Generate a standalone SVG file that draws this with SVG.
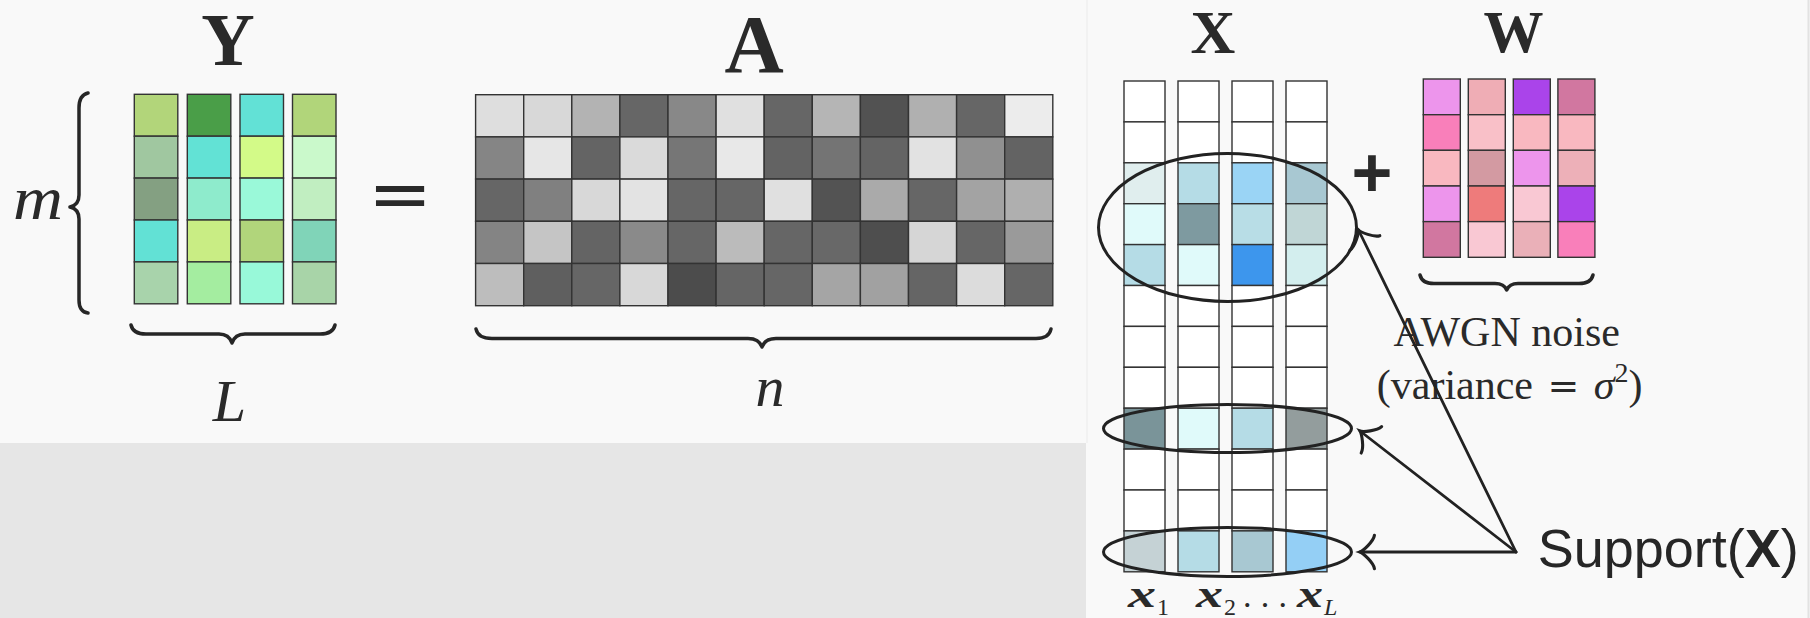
<svg xmlns="http://www.w3.org/2000/svg" width="1810" height="618" viewBox="0 0 1810 618">
<style>
.c{stroke:#333;stroke-width:1.4}
.w{fill:#fff}
.br{fill:none;stroke:#262626;stroke-width:3.5;stroke-linecap:round;stroke-linejoin:round}
.ell{fill:none;stroke:#222;stroke-width:3}
.ln{fill:none;stroke:#222;stroke-width:2.8;stroke-linecap:round}
.serif{font-family:"Liberation Serif","Times New Roman",serif;fill:#2a2a2a}
.bold{font-weight:bold}
.it{font-style:italic}
.sans{font-family:"Liberation Sans",Arial,sans-serif;fill:#262626}
.op{font-family:"Liberation Sans",Arial,sans-serif;font-weight:bold;fill:#2a2a2a}
</style>
<defs>
<marker id="to" markerUnits="userSpaceOnUse" markerWidth="30" markerHeight="40" viewBox="-16 -18 20 36" refX="0" refY="0" orient="auto">
<path d="M -13,-15 C -12.2,-9.4 -2.6,-0.9 0,0 C -2.6,0.9 -12.2,9.4 -13,15" fill="none" stroke="#222" stroke-width="2.8" stroke-linecap="round"/>
</marker>
</defs>
<rect x="0" y="0" width="1810" height="618" fill="#f9f9f9"/>
<rect x="0" y="443" width="1086" height="175" fill="#e6e6e6"/>
<line x1="1087" y1="0" x2="1087" y2="443" stroke="#efefef" stroke-width="1.5"/>
<line x1="1808.5" y1="0" x2="1808.5" y2="618" stroke="#e2e2e2" stroke-width="2"/>

<g id="matrix-Y">
<text class="serif bold" x="228" y="65" font-size="74" text-anchor="middle">Y</text>
<g class="c">
<rect x="134.3" y="94.3" width="43.5" height="41.9" fill="#b2d57a"/>
<rect x="134.3" y="136.2" width="43.5" height="41.9" fill="#a0c7a0"/>
<rect x="134.3" y="178.1" width="43.5" height="41.9" fill="#84a082"/>
<rect x="134.3" y="220" width="43.5" height="41.9" fill="#62e1d5"/>
<rect x="134.3" y="261.9" width="43.5" height="41.9" fill="#a8d3ab"/>
<rect x="187.3" y="94.3" width="43.5" height="41.9" fill="#4a9e48"/>
<rect x="187.3" y="136.2" width="43.5" height="41.9" fill="#62e2d5"/>
<rect x="187.3" y="178.1" width="43.5" height="41.9" fill="#8eebcc"/>
<rect x="187.3" y="220" width="43.5" height="41.9" fill="#c9ed84"/>
<rect x="187.3" y="261.9" width="43.5" height="41.9" fill="#a4eda0"/>
<rect x="240" y="94.3" width="43.5" height="41.9" fill="#62e1d6"/>
<rect x="240" y="136.2" width="43.5" height="41.9" fill="#d3fa88"/>
<rect x="240" y="178.1" width="43.5" height="41.9" fill="#9af9d9"/>
<rect x="240" y="220" width="43.5" height="41.9" fill="#b1d57b"/>
<rect x="240" y="261.9" width="43.5" height="41.9" fill="#98f9d9"/>
<rect x="292.5" y="94.3" width="43.5" height="41.9" fill="#b1d57a"/>
<rect x="292.5" y="136.2" width="43.5" height="41.9" fill="#caf9cb"/>
<rect x="292.5" y="178.1" width="43.5" height="41.9" fill="#c1eec1"/>
<rect x="292.5" y="220" width="43.5" height="41.9" fill="#80d4b8"/>
<rect x="292.5" y="261.9" width="43.5" height="41.9" fill="#a8d4a8"/>
</g>
<path class="br" d="M 88,93 Q 79,95 79,108 L 79,195 Q 79,205 70,207 Q 79,209 79,219 L 79,300 Q 79,312 88,313"/>
<text class="serif it" x="13" y="219" font-size="62" textLength="50" lengthAdjust="spacingAndGlyphs">m</text>
<path class="br" d="M 131,325 Q 133,334 146,334 L 219,334 Q 229,334 232,343 Q 235,334 245,334 L 320,334 Q 333,334 335,325"/>
<text class="serif it" x="229.5" y="421" font-size="60" text-anchor="middle">L</text>
</g>

<text id="equals" class="op" x="400" y="218" font-size="96" text-anchor="middle" transform="matrix(1 0 0 0.55 0 94)">=</text>

<g id="matrix-A">
<text class="serif bold" x="754" y="72" font-size="82" text-anchor="middle">A</text>
<g class="c">
<rect x="475.6" y="94.7" width="48.1" height="42.2" fill="#dedede"/>
<rect x="523.7" y="94.7" width="48.1" height="42.2" fill="#d8d8d8"/>
<rect x="571.8" y="94.7" width="48.1" height="42.2" fill="#b3b3b3"/>
<rect x="619.9" y="94.7" width="48.1" height="42.2" fill="#666666"/>
<rect x="668" y="94.7" width="48.1" height="42.2" fill="#888888"/>
<rect x="716.1" y="94.7" width="48.1" height="42.2" fill="#e0e0e0"/>
<rect x="764.2" y="94.7" width="48.1" height="42.2" fill="#666666"/>
<rect x="812.3" y="94.7" width="48.1" height="42.2" fill="#b5b5b5"/>
<rect x="860.4" y="94.7" width="48.1" height="42.2" fill="#525252"/>
<rect x="908.5" y="94.7" width="48.1" height="42.2" fill="#b0b0b0"/>
<rect x="956.6" y="94.7" width="48.1" height="42.2" fill="#666666"/>
<rect x="1004.7" y="94.7" width="48.1" height="42.2" fill="#ececec"/>

<rect x="475.6" y="136.9" width="48.1" height="42.2" fill="#858585"/>
<rect x="523.7" y="136.9" width="48.1" height="42.2" fill="#e6e6e6"/>
<rect x="571.8" y="136.9" width="48.1" height="42.2" fill="#646464"/>
<rect x="619.9" y="136.9" width="48.1" height="42.2" fill="#dadada"/>
<rect x="668" y="136.9" width="48.1" height="42.2" fill="#767676"/>
<rect x="716.1" y="136.9" width="48.1" height="42.2" fill="#e8e8e8"/>
<rect x="764.2" y="136.9" width="48.1" height="42.2" fill="#636363"/>
<rect x="812.3" y="136.9" width="48.1" height="42.2" fill="#747474"/>
<rect x="860.4" y="136.9" width="48.1" height="42.2" fill="#646464"/>
<rect x="908.5" y="136.9" width="48.1" height="42.2" fill="#e2e2e2"/>
<rect x="956.6" y="136.9" width="48.1" height="42.2" fill="#909090"/>
<rect x="1004.7" y="136.9" width="48.1" height="42.2" fill="#636363"/>

<rect x="475.6" y="179.1" width="48.1" height="42.2" fill="#666666"/>
<rect x="523.7" y="179.1" width="48.1" height="42.2" fill="#808080"/>
<rect x="571.8" y="179.1" width="48.1" height="42.2" fill="#d8d8d8"/>
<rect x="619.9" y="179.1" width="48.1" height="42.2" fill="#e3e3e3"/>
<rect x="668" y="179.1" width="48.1" height="42.2" fill="#666666"/>
<rect x="716.1" y="179.1" width="48.1" height="42.2" fill="#666666"/>
<rect x="764.2" y="179.1" width="48.1" height="42.2" fill="#e0e0e0"/>
<rect x="812.3" y="179.1" width="48.1" height="42.2" fill="#535353"/>
<rect x="860.4" y="179.1" width="48.1" height="42.2" fill="#aaaaaa"/>
<rect x="908.5" y="179.1" width="48.1" height="42.2" fill="#666666"/>
<rect x="956.6" y="179.1" width="48.1" height="42.2" fill="#a3a3a3"/>
<rect x="1004.7" y="179.1" width="48.1" height="42.2" fill="#afafaf"/>

<rect x="475.6" y="221.3" width="48.1" height="42.2" fill="#848484"/>
<rect x="523.7" y="221.3" width="48.1" height="42.2" fill="#c5c5c5"/>
<rect x="571.8" y="221.3" width="48.1" height="42.2" fill="#646464"/>
<rect x="619.9" y="221.3" width="48.1" height="42.2" fill="#8a8a8a"/>
<rect x="668" y="221.3" width="48.1" height="42.2" fill="#666666"/>
<rect x="716.1" y="221.3" width="48.1" height="42.2" fill="#bbbbbb"/>
<rect x="764.2" y="221.3" width="48.1" height="42.2" fill="#666666"/>
<rect x="812.3" y="221.3" width="48.1" height="42.2" fill="#686868"/>
<rect x="860.4" y="221.3" width="48.1" height="42.2" fill="#4e4e4e"/>
<rect x="908.5" y="221.3" width="48.1" height="42.2" fill="#d6d6d6"/>
<rect x="956.6" y="221.3" width="48.1" height="42.2" fill="#666666"/>
<rect x="1004.7" y="221.3" width="48.1" height="42.2" fill="#9a9a9a"/>

<rect x="475.6" y="263.5" width="48.1" height="42.2" fill="#bdbdbd"/>
<rect x="523.7" y="263.5" width="48.1" height="42.2" fill="#5f5f5f"/>
<rect x="571.8" y="263.5" width="48.1" height="42.2" fill="#666666"/>
<rect x="619.9" y="263.5" width="48.1" height="42.2" fill="#d8d8d8"/>
<rect x="668" y="263.5" width="48.1" height="42.2" fill="#4c4c4c"/>
<rect x="716.1" y="263.5" width="48.1" height="42.2" fill="#656565"/>
<rect x="764.2" y="263.5" width="48.1" height="42.2" fill="#666666"/>
<rect x="812.3" y="263.5" width="48.1" height="42.2" fill="#a5a5a5"/>
<rect x="860.4" y="263.5" width="48.1" height="42.2" fill="#a1a1a1"/>
<rect x="908.5" y="263.5" width="48.1" height="42.2" fill="#656565"/>
<rect x="956.6" y="263.5" width="48.1" height="42.2" fill="#dcdcdc"/>
<rect x="1004.7" y="263.5" width="48.1" height="42.2" fill="#666666"/>
</g>
<path class="br" d="M 476,329 Q 478,338.5 492,338.5 L 748,338.5 Q 759,338.5 762,347 Q 765,338.5 776,338.5 L 1036,338.5 Q 1049,338.5 1051,329"/>
<text class="serif it" x="770" y="406" font-size="58" text-anchor="middle">n</text>
</g>

<g id="matrix-X">
<text class="serif bold" x="1213" y="53" font-size="62" text-anchor="middle">X</text>
<g class="c">
<g id="x-col1">
<rect class="w" x="1124" y="81" width="41" height="40.9"/>
<rect class="w" x="1124" y="121.9" width="41" height="40.9"/>
<rect x="1124" y="162.8" width="41" height="40.9" fill="#e0eeee"/>
<rect x="1124" y="203.7" width="41" height="40.9" fill="#e0fafa"/>
<rect x="1124" y="244.6" width="41" height="40.9" fill="#b5dce6"/>
<rect class="w" x="1124" y="285.5" width="41" height="40.9"/>
<rect class="w" x="1124" y="326.4" width="41" height="40.9"/>
<rect class="w" x="1124" y="367.3" width="41" height="40.9"/>
<rect x="1124" y="408.2" width="41" height="40.9" fill="#7a9499"/>
<rect class="w" x="1124" y="449.1" width="41" height="40.9"/>
<rect class="w" x="1124" y="490" width="41" height="40.9"/>
<rect x="1124" y="530.9" width="41" height="40.9" fill="#c5d2d5"/>
</g>
<g id="x-col2">
<rect class="w" x="1178" y="81" width="41" height="40.9"/>
<rect class="w" x="1178" y="121.9" width="41" height="40.9"/>
<rect x="1178" y="162.8" width="41" height="40.9" fill="#b5dce6"/>
<rect x="1178" y="203.7" width="41" height="40.9" fill="#7e9aa0"/>
<rect x="1178" y="244.6" width="41" height="40.9" fill="#e0fafa"/>
<rect class="w" x="1178" y="285.5" width="41" height="40.9"/>
<rect class="w" x="1178" y="326.4" width="41" height="40.9"/>
<rect class="w" x="1178" y="367.3" width="41" height="40.9"/>
<rect x="1178" y="408.2" width="41" height="40.9" fill="#e0fafa"/>
<rect class="w" x="1178" y="449.1" width="41" height="40.9"/>
<rect class="w" x="1178" y="490" width="41" height="40.9"/>
<rect x="1178" y="530.9" width="41" height="40.9" fill="#b5dce6"/>
</g>
<g id="x-col3">
<rect class="w" x="1232" y="81" width="41" height="40.9"/>
<rect class="w" x="1232" y="121.9" width="41" height="40.9"/>
<rect x="1232" y="162.8" width="41" height="40.9" fill="#9ad4f5"/>
<rect x="1232" y="203.7" width="41" height="40.9" fill="#b8dde6"/>
<rect x="1232" y="244.6" width="41" height="40.9" fill="#3d96ed"/>
<rect class="w" x="1232" y="285.5" width="41" height="40.9"/>
<rect class="w" x="1232" y="326.4" width="41" height="40.9"/>
<rect class="w" x="1232" y="367.3" width="41" height="40.9"/>
<rect x="1232" y="408.2" width="41" height="40.9" fill="#b5dce6"/>
<rect class="w" x="1232" y="449.1" width="41" height="40.9"/>
<rect class="w" x="1232" y="490" width="41" height="40.9"/>
<rect x="1232" y="530.9" width="41" height="40.9" fill="#a8c8d2"/>
</g>
<g id="x-col4">
<rect class="w" x="1286" y="81" width="41" height="40.9"/>
<rect class="w" x="1286" y="121.9" width="41" height="40.9"/>
<rect x="1286" y="162.8" width="41" height="40.9" fill="#a8c8d2"/>
<rect x="1286" y="203.7" width="41" height="40.9" fill="#c0d6d6"/>
<rect x="1286" y="244.6" width="41" height="40.9" fill="#d3eeee"/>
<rect class="w" x="1286" y="285.5" width="41" height="40.9"/>
<rect class="w" x="1286" y="326.4" width="41" height="40.9"/>
<rect class="w" x="1286" y="367.3" width="41" height="40.9"/>
<rect x="1286" y="408.2" width="41" height="40.9" fill="#939d9d"/>
<rect class="w" x="1286" y="449.1" width="41" height="40.9"/>
<rect class="w" x="1286" y="490" width="41" height="40.9"/>
<rect x="1286" y="530.9" width="41" height="40.9" fill="#94cff5"/>
</g>
</g>
<text class="serif bold it" x="1128" y="607" font-size="38" textLength="28" lengthAdjust="spacingAndGlyphs">x</text>
<text class="serif" x="1157" y="615" font-size="24">1</text>
<text class="serif bold it" x="1196" y="607" font-size="38" textLength="27" lengthAdjust="spacingAndGlyphs">x</text>
<text class="serif" x="1224" y="615" font-size="24">2</text>
<text class="serif" x="1243" y="607" font-size="34" textLength="44" lengthAdjust="spacing">...</text>
<text class="serif bold it" x="1297" y="607" font-size="38" textLength="26" lengthAdjust="spacingAndGlyphs">x</text>
<text class="serif it" x="1324" y="615" font-size="24">L</text>
</g>

<text id="plus" class="op" x="1372" y="197" font-size="70" text-anchor="middle">+</text>

<g id="matrix-W">
<text class="serif bold" x="1513.5" y="52" font-size="60" text-anchor="middle">W</text>
<g class="c">
<rect x="1423.3" y="79" width="37" height="35.7" fill="#ed95ec"/>
<rect x="1423.3" y="114.7" width="37" height="35.7" fill="#f97fba"/>
<rect x="1423.3" y="150.3" width="37" height="35.7" fill="#f9b8c0"/>
<rect x="1423.3" y="186" width="37" height="35.7" fill="#ed95ec"/>
<rect x="1423.3" y="221.6" width="37" height="35.7" fill="#d177a0"/>
<rect x="1468.3" y="79" width="37" height="35.7" fill="#efadb5"/>
<rect x="1468.3" y="114.7" width="37" height="35.7" fill="#f9c0c8"/>
<rect x="1468.3" y="150.3" width="37" height="35.7" fill="#d39aa2"/>
<rect x="1468.3" y="186" width="37" height="35.7" fill="#ee7b7b"/>
<rect x="1468.3" y="221.6" width="37" height="35.7" fill="#f9c8d3"/>
<rect x="1513.3" y="79" width="37" height="35.7" fill="#aa44ea"/>
<rect x="1513.3" y="114.7" width="37" height="35.7" fill="#f9b8c0"/>
<rect x="1513.3" y="150.3" width="37" height="35.7" fill="#ed95ec"/>
<rect x="1513.3" y="186" width="37" height="35.7" fill="#f9c8d3"/>
<rect x="1513.3" y="221.6" width="37" height="35.7" fill="#eab0b8"/>
<rect x="1557.9" y="79" width="37" height="35.7" fill="#d177a0"/>
<rect x="1557.9" y="114.7" width="37" height="35.7" fill="#f9b8c0"/>
<rect x="1557.9" y="150.3" width="37" height="35.7" fill="#edb0b8"/>
<rect x="1557.9" y="186" width="37" height="35.7" fill="#aa44ea"/>
<rect x="1557.9" y="221.6" width="37" height="35.7" fill="#f97fba"/>
</g>
<path class="br" d="M 1420,275 Q 1422,283.5 1434,283.5 L 1495,283.5 Q 1504,283.5 1506.7,290 Q 1509.5,283.5 1518,283.5 L 1579,283.5 Q 1591,283.5 1593,275"/>
<text class="serif" x="1506.7" y="345.7" font-size="42" text-anchor="middle" fill="#333">AWGN noise</text>
<text class="serif" x="1509.7" y="399" font-size="42" text-anchor="middle" fill="#333" word-spacing="4">(variance <tspan font-family="'DejaVu Serif',serif" font-size="38">=</tspan> <tspan class="it">σ</tspan><tspan dy="-17" font-size="28">2</tspan><tspan dy="17">)</tspan></text>
</g>

<g id="support-sets">
<ellipse class="ell" cx="1227.5" cy="227.5" rx="129" ry="74"/>
<ellipse class="ell" cx="1227.5" cy="428.5" rx="124" ry="24"/>
<ellipse class="ell" cx="1227.5" cy="552" rx="124" ry="24.5"/>
</g>

<g id="support-label">
<text class="sans" x="1537.7" y="566.7" font-size="54">Support(<tspan font-weight="bold">X</tspan>)</text>
</g>

<g id="connectors">
<line class="ln" x1="1516" y1="552" x2="1358.5" y2="230" marker-end="url(#to)"/>
<line class="ln" x1="1516" y1="552" x2="1360" y2="431" marker-end="url(#to)"/>
<line class="ln" x1="1516" y1="552" x2="1360" y2="552" marker-end="url(#to)"/>
</g>
</svg>
